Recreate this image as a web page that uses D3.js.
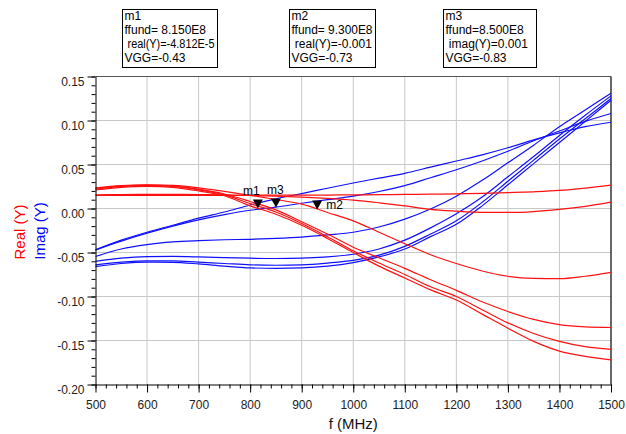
<!DOCTYPE html>
<html>
<head>
<meta charset="utf-8"/>
<script src="https://d3js.org/d3.v7.min.js"></script>
<title>Real / Imag (Y)</title>
<style type="text/css">
  body { margin: 0; background-color: white; }
  svg { display: block; font-family: Arial, "Liberation Sans", sans-serif; }
  .tick text { font-size: 12px; fill: #222; }
  .box text { font-size: 12px; white-space: pre; }
</style>
</head>
<body>
<script type="text/javascript">

// frequency points (MHz)
var freq = [500,550,600,650,700,750,800,850,900,950,1000,1050,1100,1150,1200,1250,1300,1350,1400,1450,1500];

// real(Y), one list per bias curve
var real1 = [0.0148,0.0148,0.0149,0.0149,0.015,0.015,0.0151,0.0151,0.0152,0.0153,0.0155,0.0157,0.016,0.0163,0.0167,0.0172,0.018,0.019,0.0205,0.0232,0.0266];
var real2 = [0.0156,0.0158,0.016,0.016,0.0158,0.0154,0.0148,0.014,0.013,0.0115,0.0095,0.0065,0.003,-0.001,-0.003,-0.0043,-0.0045,-0.0035,-0.001,0.0025,0.0073];
var real3 = [0.0235,0.026,0.027,0.0262,0.0235,0.0195,0.015,0.0102,0.005,-0.0045,-0.014,-0.027,-0.040,-0.0525,-0.0625,-0.071,-0.077,-0.0795,-0.0798,-0.077,-0.0725];
var real4 = [0.023,0.0255,0.0265,0.0255,0.022,0.0165,0.008,-0.0015,-0.015,-0.029,-0.044,-0.056,-0.068,-0.081,-0.093,-0.106,-0.117,-0.126,-0.132,-0.1345,-0.1352];
var real5 = [0.022,0.025,0.026,0.025,0.0212,0.0155,0.0055,-0.004,-0.017,-0.032,-0.048,-0.062,-0.075,-0.089,-0.1,-0.115,-0.13,-0.142,-0.151,-0.157,-0.16];
var real6 = [0.021,0.024,0.0252,0.024,0.020,0.0145,0.003,-0.0065,-0.019,-0.034,-0.05,-0.0655,-0.079,-0.0925,-0.104,-0.12,-0.136,-0.151,-0.162,-0.168,-0.172];

// imag(Y), one list per bias curve
var imag1 = [-0.047,-0.036,-0.027,-0.019,-0.011,-0.004,0.004,0.011,0.017,0.023,0.029,0.0345,0.040,0.047,0.054,0.061,0.069,0.078,0.086,0.093,0.098];
var imag2 = [-0.047,-0.037,-0.028,-0.020,-0.013,-0.007,-0.002,0.0015,0.006,0.010,0.014,0.0193,0.026,0.035,0.044,0.054,0.065,0.077,0.088,0.099,0.108];
var imag3 = [-0.0545,-0.046,-0.041,-0.038,-0.0365,-0.0355,-0.035,-0.034,-0.0325,-0.030,-0.027,-0.021,-0.012,-0.0005,0.014,0.032,0.052,0.072,0.093,0.112,0.131];
var imag4 = [-0.060,-0.0565,-0.0548,-0.0545,-0.055,-0.0558,-0.0565,-0.0568,-0.0565,-0.055,-0.052,-0.046,-0.036,-0.022,-0.006,0.013,0.036,0.059,0.083,0.106,0.128];
var imag5 = [-0.064,-0.061,-0.0595,-0.0595,-0.061,-0.0625,-0.064,-0.0645,-0.064,-0.062,-0.059,-0.053,-0.043,-0.029,-0.014,0.007,0.031,0.055,0.079,0.102,0.125];
var imag6 = [-0.066,-0.0625,-0.061,-0.0612,-0.063,-0.0655,-0.0675,-0.068,-0.0675,-0.0655,-0.0615,-0.055,-0.046,-0.032,-0.018,0.003,0.027,0.051,0.075,0.099,0.123];

// tick labels
var xTicks = [500,600,700,800,900,1000,1100,1200,1300,1400,1500];
var yTicks = [-0.20,-0.15,-0.10,-0.05,0.00,0.05,0.10,0.15];
var yTickLabels = ["-0.20","-0.15","-0.10","-0.05","0.00","0.05","0.10","0.15"];

// markers
var markerNames = ["m1","m2","m3"];
var markerFreq = [815,930,850];
var markerVal = [-4.812E-5,-0.001,0.001];
var markerLines = [
  ["m1","ffund= 8.150E8"," real(Y)=-4.812E-5","VGG=-0.43"],
  ["m2","ffund= 9.300E8"," real(Y)=-0.001","VGG=-0.73"],
  ["m3","ffund=8.500E8"," imag(Y)=0.001","VGG=-0.83"]
];

var realSeries = [real1,real2,real3,real4,real5,real6];
var imagSeries = [imag1,imag2,imag3,imag4,imag5,imag6];

var width = 626, height = 434;
var pLeft = 95.5, pRight = 611, pTop = 76.5, pBottom = 384.5;

var svg = d3.select("body").append("svg")
    .attr("width", width)
    .attr("height", height);

svg.append("rect").attr("width", width).attr("height", height).attr("fill", "white");

var x = d3.scaleLinear().domain([500, 1500]).range([pLeft, pRight]);
var y = d3.scaleLinear().domain([-0.2, 0.15]).range([pBottom, pTop]);

// grid
svg.append("g").selectAll("line")
    .data(xTicks.slice(1, -1))
    .enter().append("line")
    .attr("x1", function(d){ return x(d); }).attr("x2", function(d){ return x(d); })
    .attr("y1", pTop).attr("y2", pBottom)
    .attr("stroke", "#c8c8c8").attr("stroke-width", 1);
svg.append("g").selectAll("line")
    .data(yTicks.slice(1, -1))
    .enter().append("line")
    .attr("y1", function(d){ return y(d); }).attr("y2", function(d){ return y(d); })
    .attr("x1", pLeft).attr("x2", pRight)
    .attr("stroke", "#c8c8c8").attr("stroke-width", 1);

// frame top / right
svg.append("line").attr("x1", pLeft).attr("x2", pRight).attr("y1", pTop).attr("y2", pTop)
    .attr("stroke", "#555").attr("stroke-width", 1);
svg.append("line").attr("x1", pRight).attr("x2", pRight).attr("y1", pTop).attr("y2", pBottom)
    .attr("stroke", "#000").attr("stroke-width", 1.2);

// curves
var line = d3.line()
    .x(function(d, i){ return x(freq[i]); })
    .y(function(d){ return y(d); })
    .curve(d3.curveMonotoneX);

svg.append("g").selectAll("path")
    .data(imagSeries)
    .enter().append("path")
    .attr("d", line)
    .attr("fill", "none")
    .attr("stroke", "#1010ff")
    .attr("stroke-width", 1.2);

svg.append("g").selectAll("path")
    .data(realSeries)
    .enter().append("path")
    .attr("d", line)
    .attr("fill", "none")
    .attr("stroke", "#ff1010")
    .attr("stroke-width", 1.2);

// minor ticks
svg.append("g")
    .attr("transform", "translate(" + pLeft + ",0)")
    .call(d3.axisLeft(y).tickValues(d3.range(-0.2, 0.1501, 0.01)).tickSize(4).tickFormat("").tickSizeOuter(0))
    .call(function(g){ g.select(".domain").remove(); });
svg.append("g")
    .attr("transform", "translate(0," + pBottom + ")")
    .call(d3.axisBottom(x).tickValues(d3.range(500, 1501, 20)).tickSize(4).tickFormat("").tickSizeOuter(0))
    .call(function(g){ g.select(".domain").remove(); });

// major axes
var yAxis = svg.append("g")
    .attr("transform", "translate(" + pLeft + ",0)")
    .call(d3.axisLeft(y).tickValues(yTicks).tickSize(8).tickPadding(3)
        .tickFormat(function(d, i){ return yTickLabels[i]; }).tickSizeOuter(0));
yAxis.selectAll(".tick text").attr("dy", "0.75em");

var xAxis = svg.append("g")
    .attr("transform", "translate(0," + pBottom + ")")
    .call(d3.axisBottom(x).tickValues(xTicks).tickSize(8).tickPadding(8)
        .tickFormat(d3.format("d")).tickSizeOuter(0));

svg.selectAll(".domain").attr("stroke", "#000");
svg.selectAll(".tick line").attr("stroke", "#000");

// axis titles
svg.append("text")
    .attr("x", (pLeft + pRight) / 2).attr("y", 429)
    .attr("text-anchor", "middle")
    .style("font-size", "15px").attr("fill", "#111")
    .text("f (MHz)");
svg.append("text")
    .attr("transform", "translate(25,232) rotate(-90)")
    .attr("text-anchor", "middle")
    .style("font-size", "15px").attr("fill", "#ff0000")
    .text("Real (Y)");
svg.append("text")
    .attr("transform", "translate(45,231) rotate(-90)")
    .attr("text-anchor", "middle")
    .style("font-size", "15px").attr("fill", "#0000ff")
    .text("Imag (Y)");

// markers
var labelDx = [-15, 9, -9], labelDy = [-14, 0, -14];
var mk = svg.append("g").selectAll("g")
    .data(markerNames)
    .enter().append("g")
    .attr("transform", function(d, i){ return "translate(" + x(markerFreq[i]) + "," + y(markerVal[i]) + ")"; });
mk.append("path")
    .attr("d", "M-5,-9L5,-9L0,0Z")
    .attr("fill", "#000");
mk.append("text")
    .attr("x", function(d, i){ return labelDx[i]; })
    .attr("y", function(d, i){ return labelDy[i]; })
    .style("font-size", "12px")
    .text(function(d){ return d; });

// marker readout boxes
var boxX = [122.5, 289.5, 443.5], boxW = [95, 86, 93];
var box = svg.append("g").selectAll("g")
    .data(markerLines)
    .enter().append("g")
    .attr("class", "box")
    .attr("transform", function(d, i){ return "translate(" + boxX[i] + ",9.5)"; });
box.append("rect")
    .attr("width", function(d, i){ return boxW[i]; })
    .attr("height", 58)
    .attr("fill", "white")
    .attr("stroke", "#000");
box.each(function(d, i){
  d3.select(this).selectAll("text")
    .data(d)
    .enter().append("text")
    .attr("x", 2)
    .attr("y", function(t, j){ return 10.5 + j * 14; })
    .text(function(t){ return t; })
    .each(function(){
      // squeeze lines that would run past the box edge
      var room = boxW[i] - 5;
      if (this.getComputedTextLength() > room) {
        d3.select(this).attr("textLength", room).attr("lengthAdjust", "spacingAndGlyphs");
      }
    });
});

</script>
</body>
</html>
